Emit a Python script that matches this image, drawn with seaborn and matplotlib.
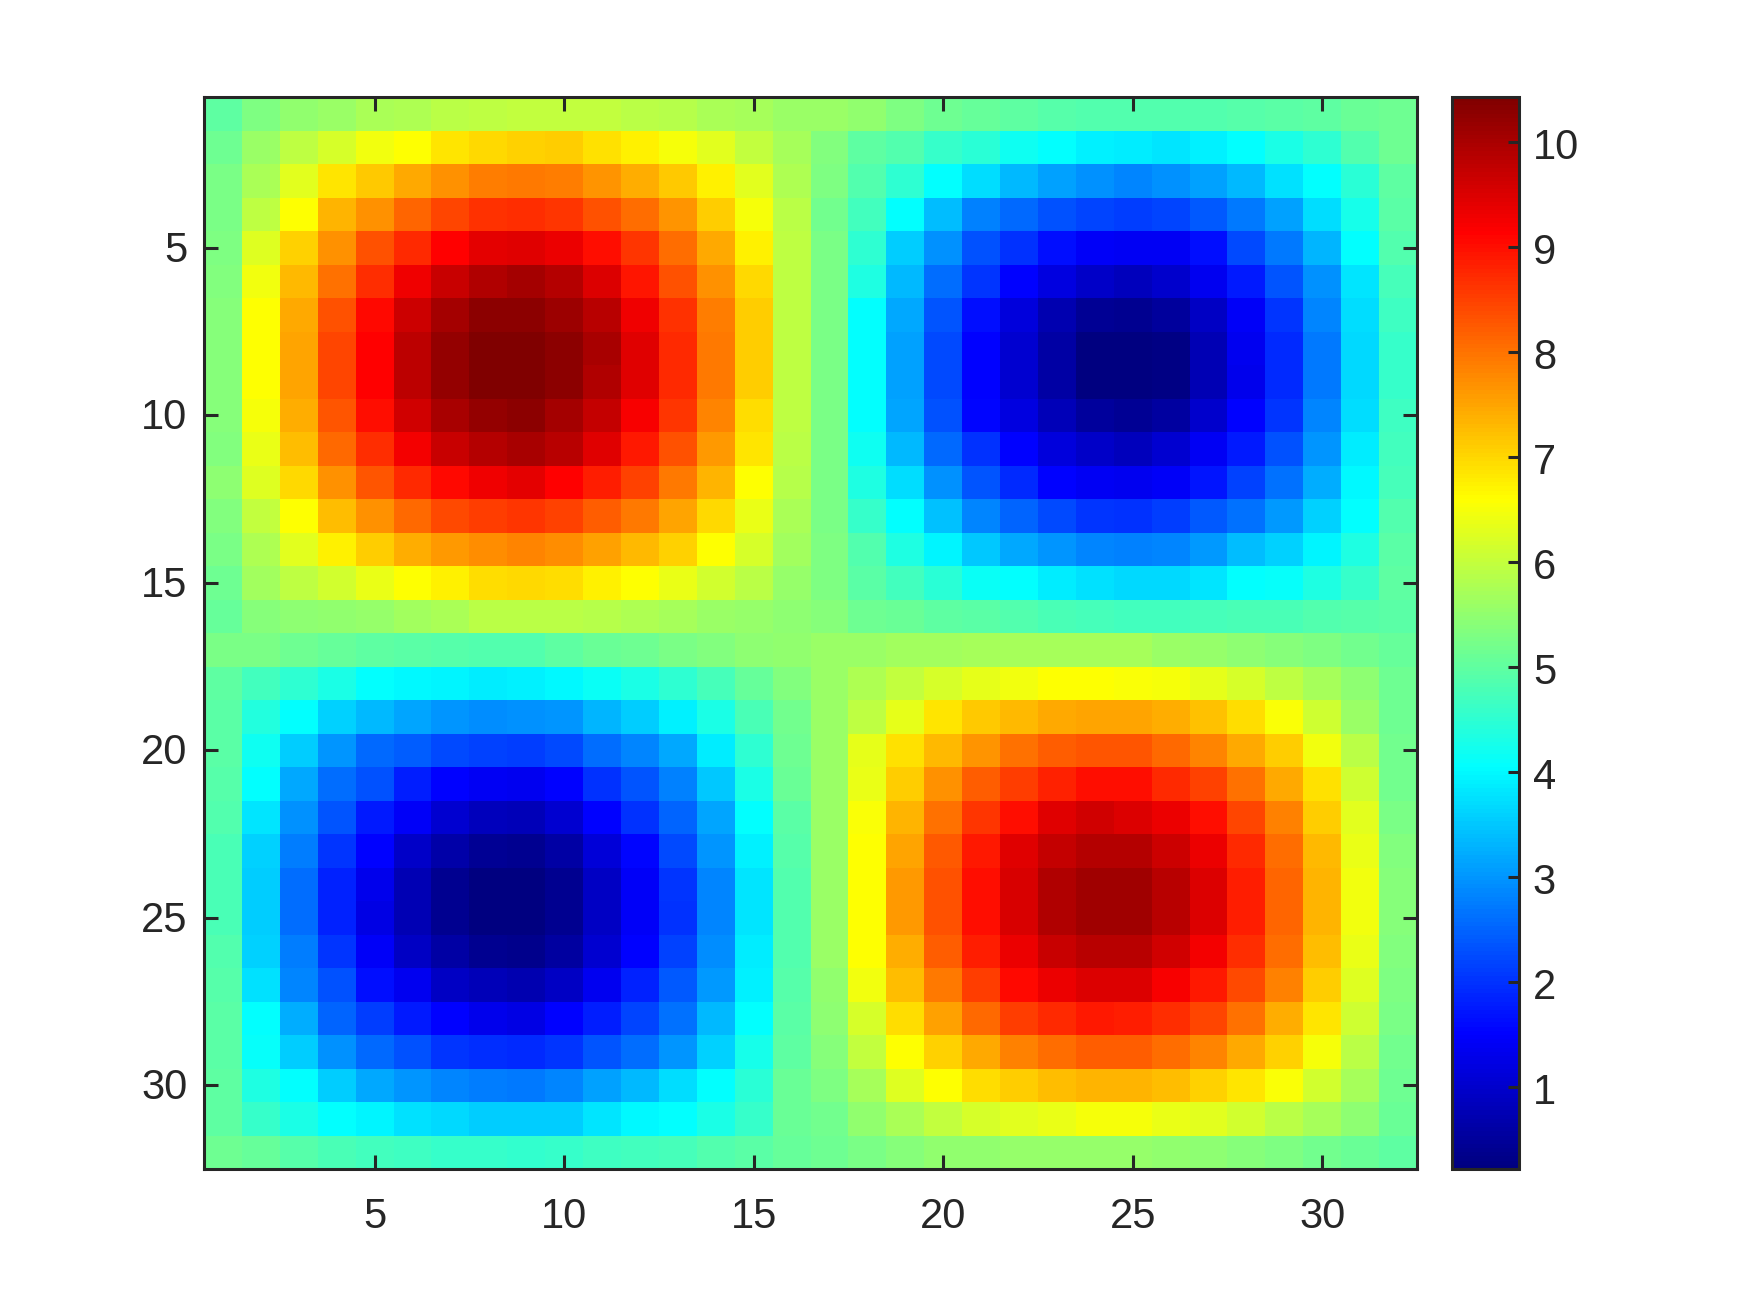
import numpy as np
import matplotlib
matplotlib.use("Agg")
import matplotlib.pyplot as plt
import matplotlib.transforms as mtrans
from matplotlib.colors import LinearSegmentedColormap
import seaborn as sns

row_01 = [5.0,5.3,5.5,5.6,5.75,5.8,5.9,5.96,6.0,6.0,6.0,5.9,5.85,5.75,5.7,5.6,5.6,5.5,5.3,5.15,5.05,5.0,4.9,4.85,4.85,4.85,4.85,4.9,4.95,5.0,5.1,5.15]
row_02 = [5.15,5.6,5.95,6.2,6.45,6.6,6.85,7.0,7.05,7.1,6.9,6.75,6.5,6.3,6.0,5.7,5.35,5.0,4.85,4.6,4.45,4.2,4.05,3.9,3.85,3.8,3.9,4.05,4.3,4.5,4.85,5.15]
row_03 = [5.25,5.75,6.3,6.85,7.15,7.45,7.7,7.88,7.95,7.88,7.65,7.4,7.15,6.75,6.3,5.8,5.3,4.85,4.5,4.05,3.7,3.35,3.1,2.95,2.85,2.95,3.1,3.35,3.75,4.05,4.45,5.0]
row_04 = [5.25,5.95,6.6,7.35,7.7,8.15,8.45,8.65,8.7,8.6,8.35,8.05,7.65,7.1,6.5,5.9,5.2,4.7,4.05,3.4,2.8,2.55,2.3,2.2,2.1,2.2,2.4,2.7,3.1,3.7,4.25,4.95]
row_05 = [5.3,6.25,7.05,7.7,8.35,8.75,9.15,9.4,9.45,9.35,9.0,8.6,8.05,7.45,6.75,5.95,5.25,4.5,3.55,2.95,2.3,2.0,1.65,1.45,1.4,1.4,1.65,2.25,2.7,3.3,4.05,4.85]
row_06 = [5.35,6.45,7.3,8.0,8.7,9.3,9.7,9.95,10.05,9.9,9.5,8.95,8.35,7.7,7.0,5.95,5.25,4.35,3.35,2.6,2.05,1.5,1.2,0.95,0.85,1.0,1.35,1.75,2.35,2.95,3.8,4.75]
row_07 = [5.4,6.6,7.45,8.35,9.05,9.65,10.05,10.3,10.3,10.15,9.85,9.3,8.65,7.9,7.1,5.95,5.25,4.05,3.2,2.35,1.65,1.15,0.7,0.45,0.4,0.5,0.9,1.45,2.05,2.85,3.7,4.65]
row_08 = [5.4,6.6,7.5,8.45,9.15,9.8,10.2,10.43,10.43,10.28,10.0,9.45,8.75,7.95,7.1,5.95,5.25,4.05,3.1,2.25,1.5,1.05,0.6,0.24,0.22,0.28,0.75,1.35,1.9,2.7,3.65,4.6]
row_09 = [5.4,6.6,7.5,8.45,9.15,9.8,10.2,10.4,10.43,10.28,9.95,9.45,8.75,7.95,7.1,5.95,5.25,4.05,3.1,2.25,1.5,1.05,0.6,0.24,0.22,0.28,0.75,1.3,1.9,2.7,3.65,4.6]
row_10 = [5.4,6.5,7.4,8.3,9.0,9.6,10.0,10.2,10.3,10.05,9.75,9.2,8.6,7.8,6.95,5.95,5.25,4.05,3.15,2.3,1.55,1.2,0.8,0.5,0.45,0.55,1.0,1.5,2.05,2.85,3.7,4.65]
row_11 = [5.35,6.4,7.25,8.1,8.7,9.25,9.7,9.9,10.0,9.85,9.45,8.9,8.35,7.6,6.85,5.9,5.25,4.2,3.35,2.55,2.0,1.5,1.15,0.95,0.85,1.05,1.4,1.75,2.3,3.0,3.85,4.7]
row_12 = [5.45,6.25,7.0,7.7,8.3,8.75,9.05,9.3,9.4,9.15,8.85,8.5,7.95,7.35,6.6,5.85,5.25,4.35,3.7,2.95,2.35,1.9,1.5,1.4,1.35,1.45,1.7,2.15,2.65,3.25,4.0,4.75]
row_13 = [5.35,6.0,6.6,7.25,7.7,8.1,8.4,8.55,8.6,8.5,8.2,7.95,7.5,7.0,6.4,5.75,5.25,4.6,4.05,3.45,2.85,2.5,2.25,2.05,2.0,2.1,2.4,2.65,3.05,3.6,4.05,4.85]
row_14 = [5.25,5.8,6.3,6.75,7.1,7.4,7.6,7.75,7.8,7.75,7.55,7.3,7.05,6.6,6.2,5.65,5.3,4.85,4.35,3.95,3.5,3.2,3.0,2.85,2.8,2.85,3.05,3.4,3.6,3.95,4.35,4.95]
row_15 = [5.15,5.65,5.95,6.15,6.4,6.6,6.75,6.95,7.0,6.95,6.75,6.6,6.4,6.15,5.9,5.55,5.3,4.95,4.7,4.45,4.15,4.05,3.85,3.75,3.65,3.65,3.8,4.05,4.1,4.35,4.6,5.0]
row_16 = [5.05,5.4,5.45,5.5,5.55,5.65,5.75,5.9,5.9,5.9,5.85,5.8,5.7,5.6,5.55,5.45,5.4,5.15,5.1,5.0,4.95,4.85,4.8,4.75,4.7,4.7,4.75,4.8,4.8,4.85,4.9,4.95]
row_17 = [5.25,5.25,5.15,5.05,5.0,4.95,4.9,4.85,4.85,5.0,5.1,5.15,5.25,5.35,5.45,5.5,5.6,5.6,5.65,5.65,5.7,5.7,5.7,5.7,5.7,5.6,5.55,5.45,5.4,5.3,5.2,5.05]
row_18 = [5.0,4.7,4.5,4.3,4.05,4.0,3.95,3.85,3.9,4.0,4.15,4.3,4.5,4.75,5.05,5.35,5.6,5.8,6.0,6.2,6.35,6.45,6.6,6.6,6.55,6.5,6.35,6.2,5.95,5.7,5.45,5.15]
row_19 = [4.95,4.4,4.05,3.6,3.35,3.15,3.0,2.9,2.95,3.0,3.3,3.55,3.9,4.3,4.8,5.2,5.6,5.95,6.35,6.85,7.15,7.3,7.45,7.5,7.5,7.4,7.2,6.95,6.55,6.1,5.6,5.15]
row_20 = [4.95,4.2,3.55,3.0,2.55,2.45,2.25,2.15,2.1,2.25,2.6,2.85,3.2,3.85,4.5,5.15,5.6,6.35,6.9,7.3,7.65,8.0,8.2,8.3,8.3,8.1,7.8,7.45,7.1,6.45,5.9,5.2]
row_21 = [4.9,4.05,3.2,2.6,2.3,1.8,1.5,1.4,1.35,1.5,2.0,2.35,2.8,3.5,4.3,5.1,5.6,6.4,7.1,7.7,8.2,8.55,8.8,9.0,9.0,8.75,8.5,8.0,7.45,6.9,6.1,5.2]
row_22 = [4.85,3.8,2.95,2.35,1.75,1.45,1.05,0.85,0.8,1.05,1.5,2.0,2.5,3.15,4.05,4.95,5.6,6.55,7.35,8.0,8.6,9.0,9.45,9.6,9.5,9.35,9.0,8.45,7.85,7.1,6.3,5.25]
row_23 = [4.8,3.6,2.75,2.05,1.5,0.95,0.65,0.45,0.4,0.6,1.1,1.55,2.25,3.0,3.9,4.9,5.6,6.6,7.5,8.25,8.9,9.45,9.75,9.9,9.9,9.65,9.35,8.75,8.05,7.3,6.4,5.35]
row_24 = [4.8,3.55,2.6,1.85,1.3,0.75,0.4,0.22,0.22,0.4,0.9,1.45,2.05,2.85,3.8,4.85,5.6,6.6,7.6,8.35,9.0,9.55,9.95,10.1,10.1,9.85,9.5,8.85,8.15,7.35,6.45,5.4]
row_25 = [4.8,3.55,2.6,1.85,1.25,0.75,0.4,0.22,0.22,0.4,0.9,1.45,2.0,2.85,3.8,4.85,5.6,6.6,7.6,8.35,9.0,9.55,9.95,10.1,10.1,9.85,9.5,8.85,8.15,7.35,6.45,5.4]
row_26 = [4.85,3.6,2.75,2.05,1.45,0.9,0.6,0.4,0.35,0.55,1.05,1.5,2.15,2.9,3.85,4.85,5.6,6.6,7.4,8.2,8.85,9.35,9.7,9.85,9.85,9.6,9.25,8.7,8.05,7.25,6.4,5.35]
row_27 = [4.9,3.75,2.85,2.3,1.65,1.35,0.9,0.8,0.7,0.9,1.35,1.85,2.4,3.05,3.9,4.9,5.5,6.45,7.25,7.95,8.55,9.05,9.35,9.5,9.5,9.2,8.9,8.4,7.85,7.1,6.25,5.3]
row_28 = [4.95,4.05,3.25,2.5,2.1,1.75,1.5,1.3,1.25,1.5,1.8,2.2,2.65,3.35,4.05,4.95,5.45,6.2,6.95,7.55,8.1,8.55,8.75,8.9,8.85,8.7,8.45,8.0,7.4,6.85,6.1,5.25]
row_29 = [4.95,4.1,3.55,2.95,2.55,2.3,2.05,1.95,1.9,2.05,2.35,2.6,3.0,3.6,4.25,5.0,5.4,6.0,6.6,7.05,7.45,7.85,8.05,8.2,8.2,8.05,7.8,7.45,7.05,6.5,5.9,5.2]
row_30 = [5.0,4.35,4.05,3.55,3.2,3.0,2.85,2.75,2.7,2.85,3.1,3.35,3.7,4.05,4.45,5.1,5.3,5.7,6.25,6.6,6.95,7.1,7.25,7.35,7.35,7.25,7.05,6.85,6.55,6.15,5.7,5.15]
row_31 = [5.0,4.6,4.3,4.05,3.95,3.75,3.65,3.55,3.55,3.55,3.8,4.0,4.05,4.3,4.6,5.1,5.2,5.5,5.75,6.0,6.2,6.3,6.4,6.5,6.5,6.4,6.3,6.15,5.9,5.7,5.45,5.1]
row_32 = [5.15,5.05,4.9,4.8,4.7,4.65,4.6,4.6,4.55,4.6,4.65,4.7,4.75,4.85,4.95,5.05,5.15,5.25,5.4,5.5,5.5,5.55,5.55,5.55,5.55,5.5,5.45,5.4,5.3,5.2,5.1,5.0]

rows = [row_01,row_02,row_03,row_04,row_05,row_06,row_07,row_08,
        row_09,row_10,row_11,row_12,row_13,row_14,row_15,row_16,
        row_17,row_18,row_19,row_20,row_21,row_22,row_23,row_24,
        row_25,row_26,row_27,row_28,row_29,row_30,row_31,row_32]
axis_ticks = [5, 10, 15, 20, 25, 30]
cbar_ticks = [1, 2, 3, 4, 5, 6, 7, 8, 9, 10]
value_min = 0.22
value_max = 10.43

sns.set_theme(style="white")
plt.rcParams['font.family'] = ['Liberation Sans', 'DejaVu Sans']
INK = "#262626"
W, H = 1750, 1313

# MATLAB-style jet: its yellow and cyan sit at other stops than matplotlib's jet
matlab_jet = LinearSegmentedColormap.from_list(
    "matlab_jet",
    [(0.0, "#000080"), (0.125, "#0000ff"), (0.375, "#00ffff"),
     (0.625, "#ffff00"), (0.875, "#ff0000"), (1.0, "#800000")], N=256)

fig = plt.figure(figsize=(W/100, H/100), dpi=100, facecolor="white")
ax = fig.add_axes([204/W, 1-1169/H, 1213/W, 1072/H])
cax = fig.add_axes([1452/W, 1-1169/H, 67/W, 1072/H])

sns.heatmap(np.array(rows), cmap=matlab_jet, vmin=value_min, vmax=value_max,
            ax=ax, cbar_ax=cax, square=False)

centres = np.array(axis_ticks) - 0.5
ax.set_xticks(centres)
ax.set_xticklabels([str(t) for t in axis_ticks], rotation=0)
ax.set_yticks(centres)
ax.set_yticklabels([str(t) for t in axis_ticks], rotation=0)
ax.set_axisbelow(False)
ax.tick_params(axis="x", which="major", direction="in", length=10, width=2.2,
               color=INK, labelcolor=INK, labelsize=30, top=True, bottom=True, pad=20)
ax.tick_params(axis="y", which="major", direction="in", length=10, width=2.2,
               color=INK, labelcolor=INK, labelsize=30, left=True, right=True, pad=12)
for s in ax.spines.values():
    s.set_visible(True)
    s.set_linewidth(2.2)
    s.set_color(INK)

cbar = ax.collections[0].colorbar
cbar.set_ticks(cbar_ticks)
cbar.set_ticklabels([str(t) for t in cbar_ticks])
cbar.outline.set_visible(True)
cbar.outline.set_linewidth(2.2)
cbar.outline.set_edgecolor(INK)
cax.set_axisbelow(False)
cax.tick_params(axis="y", direction="in", length=8, width=2.2, color=INK,
                labelcolor=INK, labelsize=30, right=True, left=False, pad=10)

# nudge the y labels down to sit as in the reference
nudge_ax = mtrans.ScaledTranslation(0, -3/100, fig.dpi_scale_trans)
nudge_cb = mtrans.ScaledTranslation(0, -1/100, fig.dpi_scale_trans)
for lab in ax.get_yticklabels():
    lab.set_transform(lab.get_transform() + nudge_ax)
for lab in cax.get_yticklabels():
    lab.set_transform(lab.get_transform() + nudge_cb)

fig.savefig("out.png", dpi=100, facecolor="white")
